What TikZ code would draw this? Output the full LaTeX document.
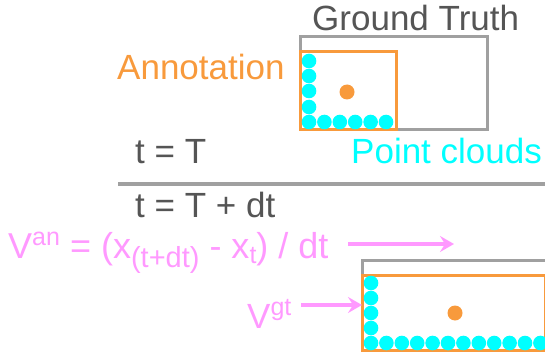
\documentclass[tikz,border=0pt]{standalone}
\usepackage{fontspec}
\setmainfont{Liberation Sans}
\usetikzlibrary{arrows.meta}
\definecolor{gtgray}{HTML}{A0A0A0}
\definecolor{txtgray}{HTML}{555555}
\definecolor{anorange}{HTML}{F89A3C}
\definecolor{pccyan}{HTML}{00FFFF}
\definecolor{vpink}{HTML}{FF99FF}
\newcommand{\bigtxt}{\fontsize{35}{42}\selectfont}
\newcommand{\fmltxt}{\fontsize{36}{42}\selectfont}
\newcommand{\suptxt}{\fontsize{25}{30}\selectfont}
\newcommand{\subtxt}{\fontsize{29}{33}\selectfont}
\tikzset{
  gtbox/.style={draw=gtgray, line width=3pt},
  anbox/.style={draw=anorange, line width=3pt},
  pcdot/.style={fill=pccyan},
  cdot/.style={fill=anorange},
  lbl/.style={anchor=base west, inner sep=0pt, font=\bigtxt},
  parrow/.style={draw=vpink, line width=3.5pt, -{Stealth[length=14pt,width=16pt,inset=5pt]}},
}
\begin{document}
\begin{tikzpicture}[x=1pt,y=-1pt]
\useasboundingbox (0,0) rectangle (545,358);
\clip (0,0) rectangle (545,358);
% top frame (t = T)
\draw[gtbox] (300,37) rectangle (487,130);
\draw[anbox] (300,52) rectangle (396,130);
\foreach \yy in {61,76,91,107} \fill[pcdot] (309,\yy) circle (7.3);
\foreach \k in {0,...,5} \fill[pcdot] (309+15.4*\k,122) circle (7.3);
\fill[cdot] (347,92) circle (7.5);
\node[lbl, text=txtgray] (gt) at (312,31) {Ground Truth};
\node[lbl, text=anorange] (an) at (117,80) {Annotation};
\node[lbl, text=txtgray] (tT) at (135,164) {t = T};
\node[lbl, text=pccyan] (pc) at (351,164) {Point clouds};
% separator
\coordinate (sepL) at (118,184);
\coordinate (sepR) at (545,184);
\draw[gtgray, line width=4pt] (sepL) -- (sepR);
\node[lbl, text=txtgray] (tTdt) at (135,217) {t = T + dt};
% formula
\node[lbl, text=vpink, font=\fmltxt] (van) at (8,258) {V\raisebox{13pt}{\suptxt an} = (x\raisebox{-9pt}{\subtxt (t+dt)} - x\raisebox{-5pt}{\suptxt t}) / dt};
\coordinate (a1s) at (348,244);
\coordinate (a1e) at (454,244);
\draw[parrow] (a1s) -- (a1e);
% bottom frame (t = T + dt)
\draw[gtbox] (362,260) rectangle (580,350);
\draw[anbox] (362,275) rectangle (545,350);
\coordinate (anbW) at (362,305);
\foreach \yy in {283,298,313,328} \fill[pcdot] (371,\yy) circle (7.3);
\foreach \k in {0,...,11} \fill[pcdot] (371+15.4*\k,343) circle (7.3);
\fill[cdot] (455,313) circle (7.5);
\node[lbl, text=vpink] (vgt) at (247,328) {V\raisebox{13pt}{\suptxt gt}};
\coordinate (a2s) at (301,305);
\draw[parrow] (a2s) -- (anbW);
\end{tikzpicture}
\end{document}
